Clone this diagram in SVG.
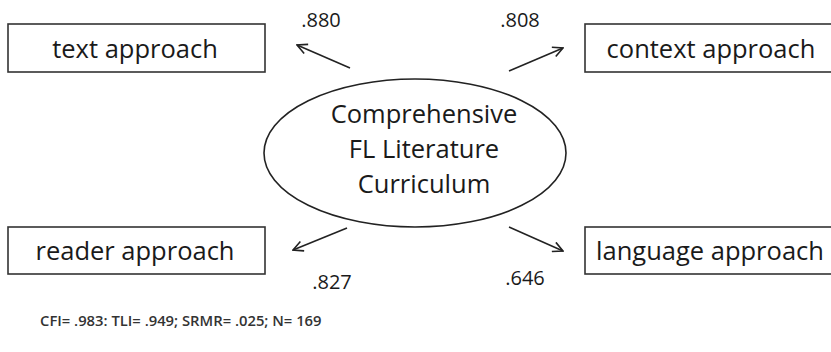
<svg xmlns="http://www.w3.org/2000/svg" width="831" height="352" viewBox="0 0 831 352">
<style>
.box{fill:#fff;stroke:#333;stroke-width:1.6}
.lbl{font-family:"Open Sans",sans-serif;font-size:25.5px;fill:#1a1a1a;text-anchor:middle}
.num{font-family:"Open Sans",sans-serif;font-size:20px;fill:#1a1a1a;text-anchor:middle}
.conn{stroke:#222;stroke-width:1.6;fill:none;marker-end:url(#ah)}
.foot{font-family:"Open Sans",sans-serif;font-size:14.8px;font-weight:600;fill:#333}
</style>
<defs>
<marker id="ah" viewBox="0 0 12 12" refX="11" refY="6" markerWidth="12" markerHeight="12" markerUnits="userSpaceOnUse" orient="auto">
<path d="M1,1 L11,6 L1,11" fill="none" stroke="#222" stroke-width="1.6"/>
</marker>
</defs>
<rect width="831" height="352" fill="#fff"/>
<g id="connectors">
<line class="conn" x1="350" y1="68" x2="297" y2="45"/>
<line class="conn" x1="509" y1="71" x2="563" y2="48"/>
<line class="conn" x1="347" y1="228" x2="293" y2="250"/>
<line class="conn" x1="509" y1="227" x2="563" y2="251"/>
</g>
<g id="latent">
<ellipse cx="415" cy="153" rx="151" ry="74" fill="#fff" stroke="#222" stroke-width="1.6"/>
<text class="lbl" x="424" y="123">Comprehensive</text>
<text class="lbl" x="424" y="158">FL Literature</text>
<text class="lbl" x="424" y="193">Curriculum</text>
</g>
<g id="text-approach">
<rect class="box" x="8" y="24" width="257" height="48"/>
<text class="lbl" x="135" y="58">text approach</text>
</g>
<g id="context-approach">
<rect class="box" x="585" y="24" width="250" height="48"/>
<text class="lbl" x="711" y="58">context approach</text>
</g>
<g id="reader-approach">
<rect class="box" x="8" y="227" width="257" height="47"/>
<text class="lbl" x="135" y="260">reader approach</text>
</g>
<g id="language-approach">
<rect class="box" x="585" y="227" width="250" height="47"/>
<text class="lbl" x="710" y="260">language approach</text>
</g>
<g id="labels">
<text class="num" x="321" y="27">.880</text>
<text class="num" x="520" y="27">.808</text>
<text class="num" x="332" y="289">.827</text>
<text class="num" x="525" y="285">.646</text>
</g>
<text class="foot" x="40" y="326">CFI= .983: TLI= .949; SRMR= .025; N= 169</text>
</svg>
